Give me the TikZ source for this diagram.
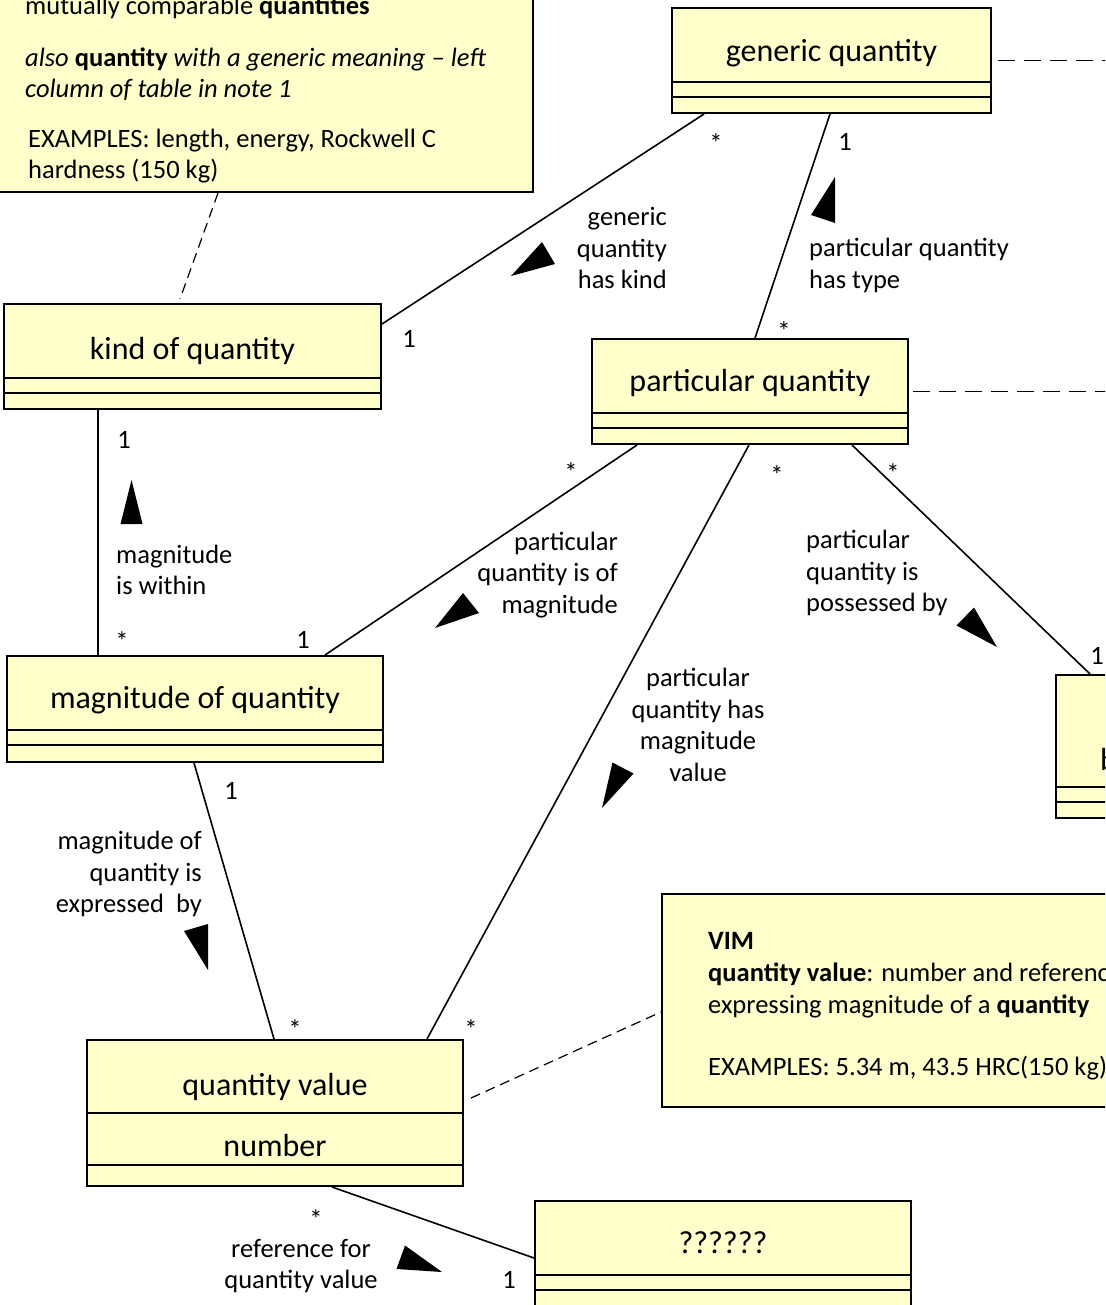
\documentclass[tikz,border=0pt]{standalone}
\usepackage{fontspec}
\setmainfont{Carlito}
\usetikzlibrary{calc}
\definecolor{classfill}{HTML}{FFFFCC}

\begin{document}
\begin{tikzpicture}[x=1pt,y=-1pt,
  cls/.style={draw, fill=classfill, line width=2pt, inner sep=0pt, rectangle},
  notebox/.style={draw, fill=classfill, line width=2pt, inner sep=0pt, rectangle},
  sep/.style={line width=2pt},
  assoc/.style={line width=1.6pt},
  anchorline/.style={line width=1.2pt, dash pattern=on 10pt off 6pt},
  classname/.style={font=\fontsize{32}{38}\selectfont, anchor=base, inner sep=0pt},
  lbl/.style={font=\fontsize{26.5}{31.5}\selectfont, inner sep=0pt},
  mult/.style={font=\fontsize{26.5}{31.5}\selectfont, anchor=base, inner sep=0pt},
  notetext/.style={font=\fontsize{26.5}{31.5}\selectfont, anchor=base west, inner sep=0pt},
  dirmark/.style={fill=black},
]
\useasboundingbox (0,0) rectangle (1105,1305);
\clip (0,0) rectangle (1105,1305);

% ---- notes ----
\node[notebox, anchor=south east, minimum width=560pt, minimum height=220pt] (note1) at (534,193) {};
\node[notetext] (n1a) at (25,15) {mutually comparable \textbf{quantities}};
\node[notetext] (n1b) at (25,67) {\textit{also} \textbf{quantity} \textit{with a generic meaning – left}};
\node[notetext] (n1c) at (25,98) {\textit{column of table in note 1}};
\node[notetext] (n1d) at (28,148) {EXAMPLES: length, energy, Rockwell C};
\node[notetext] (n1e) at (28,179) {hardness (150 kg)};

\node[notebox, anchor=north west, minimum width=640pt, minimum height=213pt] (vim) at (661,893) {};
\node[notetext] (v1) at (708,949) {\textbf{VIM}};
\node[notetext] (v2) at (708,981) {\textbf{quantity value}: number and reference};
\node[notetext] (v3) at (708,1013) {expressing magnitude of a \textbf{quantity}};
\node[notetext] (v4) at (708,1075) {EXAMPLES: 5.34 m, 43.5 HRC(150 kg)};

% ---- classes ----
\node[cls, minimum width=319pt, minimum height=105pt] (gq) at (831.5,60.5) {};
\draw[sep] ([yshift=-75pt]gq.north west) -- ([yshift=-75pt]gq.north east);
\draw[sep] ([yshift=-90pt]gq.north west) -- ([yshift=-90pt]gq.north east);
\node[classname] (gqname) at ([yshift=-55pt]gq.north) {generic quantity};

\node[cls, minimum width=377pt, minimum height=105pt] (kq) at (192.5,356.5) {};
\draw[sep] ([yshift=-75pt]kq.north west) -- ([yshift=-75pt]kq.north east);
\draw[sep] ([yshift=-90pt]kq.north west) -- ([yshift=-90pt]kq.north east);
\node[classname] (kqname) at ([yshift=-56pt]kq.north) {kind of quantity};

\node[cls, minimum width=316pt, minimum height=105pt] (pq) at (750,391.5) {};
\draw[sep] ([yshift=-75pt]pq.north west) -- ([yshift=-75pt]pq.north east);
\draw[sep] ([yshift=-90pt]pq.north west) -- ([yshift=-90pt]pq.north east);
\node[classname] (pqname) at ([yshift=-53pt]pq.north) {particular quantity};

\node[cls, minimum width=376pt, minimum height=106pt] (mq) at (195,709) {};
\draw[sep] ([yshift=-75pt]mq.north west) -- ([yshift=-75pt]mq.north east);
\draw[sep] ([yshift=-90pt]mq.north west) -- ([yshift=-90pt]mq.north east);
\node[classname] (mqname) at ([yshift=-53pt]mq.north) {magnitude of quantity};

\node[cls, anchor=north west, minimum width=376pt, minimum height=143pt] (rb) at (1055,674) {};
\draw[sep] ([yshift=-113pt]rb.north west) -- ([yshift=-113pt]rb.north east);
\draw[sep] ([yshift=-128pt]rb.north west) -- ([yshift=-128pt]rb.north east);
\node[classname, anchor=base west] (rbname) at ([xshift=45pt,yshift=-96pt]rb.north west) {body, or substance};

\node[cls, minimum width=376pt, minimum height=146pt] (qv) at (275,1113) {};
\draw[sep] ([yshift=-74pt]qv.north west) -- ([yshift=-74pt]qv.north east);
\draw[sep] ([yshift=-126pt]qv.north west) -- ([yshift=-126pt]qv.north east);
\node[classname] (qvname) at ([yshift=-56pt]qv.north) {quantity value};
\node[classname] (qvattr) at ([yshift=-117pt]qv.north) {number};

\node[cls, anchor=north west, minimum width=376pt, minimum height=130pt] (unk) at (534,1200) {};
\draw[sep] ([yshift=-75pt]unk.north west) -- ([yshift=-75pt]unk.north east);
\draw[sep] ([yshift=-90pt]unk.north west) -- ([yshift=-90pt]unk.north east);
\node[classname] (unkname) at ([yshift=-53pt]unk.north) {??????};

% ---- note anchors ----
\coordinate (gqout) at (1110,60.5);
\coordinate (pqout) at (1110,391.5);
\draw[anchorline] ([xshift=-316pt]note1.south east) -- ([xshift=177pt,yshift=4pt]kq.north west);
\draw[anchorline, dash pattern=on 17pt off 9pt] ([xshift=6pt]gq.east) -- (gqout);
\draw[anchorline, dash pattern=on 17pt off 9pt] ([xshift=4pt]pq.east) -- (pqout);
\draw[anchorline] ([xshift=7pt,yshift=15pt]qv.east) -- ([yshift=-119pt]vim.north west);

% ---- associations ----
\draw[assoc] ([xshift=33pt]gq.south west) -- ([yshift=-21pt]kq.north east);
\draw[assoc] ([xshift=159pt]gq.south west) -- ([xshift=164pt]pq.north west);
\draw[assoc] ([xshift=95pt]kq.south west) -- ([xshift=92pt]mq.north west);
\draw[assoc] ([xshift=46pt]pq.south west) -- ([xshift=319pt]mq.north west);
\draw[assoc] ([xshift=158pt]pq.south west) -- ([xshift=341pt]qv.north west);
\draw[assoc] ([xshift=261pt]pq.south west) -- ([xshift=35pt]rb.north west);
\draw[assoc] ([xshift=188pt]mq.south west) -- ([xshift=188pt]qv.north west);
\draw[assoc] ([xshift=246pt]qv.south west) -- ([yshift=-58pt]unk.north west);

% ---- association names ----
\node[lbl, align=right, anchor=east] (a1) at (667,248) {generic\\quantity\\has kind};
\node[lbl, align=left, anchor=west] (a2) at (809,265.5) {particular quantity\\has type};
\node[lbl, align=left, anchor=west] (a3) at (116,570) {magnitude\\is within};
\node[lbl, align=right, anchor=east] (a4) at (618,575) {particular\\quantity is of\\magnitude};
\node[lbl, align=center] (a5) at (698,725) {particular\\quantity has\\magnitude\\value};
\node[lbl, align=left, anchor=west] (a6) at (806,573) {particular\\quantity is\\possessed by};
\node[lbl, align=right, anchor=east] (a7) at (202,874) {magnitude of\\quantity is\\expressed~ by};
\node[lbl, align=center] (a8) at (301,1266) {reference for\\quantity value};

% ---- reading direction marks ----
\fill[dirmark] (542,242) -- (555,264) -- (511,276) -- cycle;
\fill[dirmark] (835,177) -- (811,215) -- (835,223) -- cycle;
\fill[dirmark] (131.5,480) -- (120.5,524) -- (142.5,524) -- cycle;
\fill[dirmark] (463,593) -- (479,613) -- (435,628) -- cycle;
\fill[dirmark] (612.5,762.5) -- (633.5,773.5) -- (602,808) -- cycle;
\fill[dirmark] (956.5,625.5) -- (974,607.5) -- (997,647) -- cycle;
\fill[dirmark] (184,931) -- (208,924) -- (208,970) -- cycle;
\fill[dirmark] (405,1245.5) -- (396.5,1269) -- (442,1272) -- cycle;

% ---- multiplicities ----
\node[mult] (m1a) at (716,153) {*};
\node[mult] (m1b) at (409,347.5) {1};
\node[mult] (m2a) at (845,150.5) {1};
\node[mult] (m2b) at (784,340) {*};
\node[mult] (m3a) at (124,448.5) {1};
\node[mult] (m3b) at (122,650) {*};
\node[mult] (m4a) at (571,481) {*};
\node[mult] (m4b) at (303,648.5) {1};
\node[mult] (m5a) at (777,484) {*};
\node[mult] (m5b) at (471,1038) {*};
\node[mult] (m6a) at (893,482) {*};
\node[mult] (m6b) at (1097,664.5) {1};
\node[mult] (m7a) at (231,799.5) {1};
\node[mult] (m7b) at (295,1038) {*};
\node[mult] (m8a) at (316,1228) {*};
\node[mult] (m8b) at (509,1288.5) {1};
\end{tikzpicture}
\end{document}
